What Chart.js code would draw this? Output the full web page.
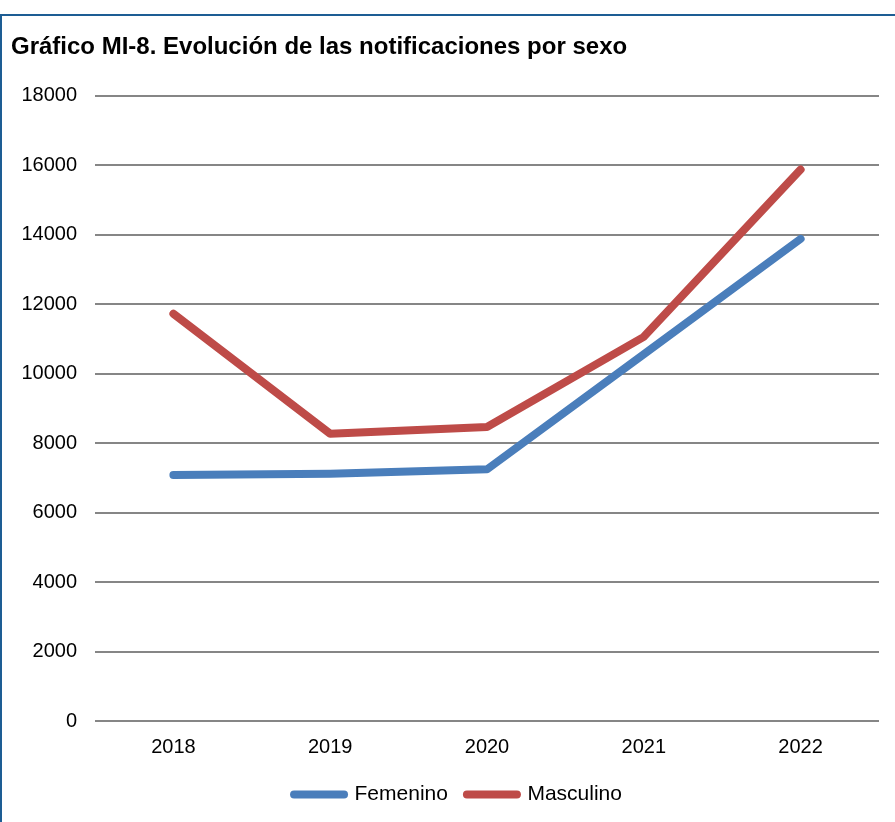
<!DOCTYPE html>
<html lang="es">
<head>
<meta charset="utf-8">
<title>Gráfico MI-8</title>
<script src="https://cdn.jsdelivr.net/npm/chart.js@4.4.1/dist/chart.umd.min.js"></script>
<style>
    html, body { margin: 0; padding: 0; background: #ffffff; overflow: hidden; }
    #frame {
        position: absolute; left: 0; top: 14px; width: 920px; height: 840px;
        border-top: 2px solid #1d5d94; border-left: 2px solid #1d5d94;
    }
    #wrap { position: absolute; left: 0; top: 0; width: 895px; height: 822px; }
</style>
</head>
<body>
<div id="frame"></div>
<div id="wrap"><canvas id="notifChart"></canvas></div>
<script>
// Años y notificaciones por sexo
const years = ['2018', '2019', '2020', '2021', '2022'];
const femenino = [7080, 7115, 7245, 10560, 13880];
const masculino = [11725, 8270, 8465, 11060, 15875];
const yTicks = [0, 2000, 4000, 6000, 8000, 10000, 12000, 14000, 16000, 18000];

const FONT = 'Liberation Sans, Arial, Helvetica, sans-serif';

function lineSeries(label, data, color) {
    return {
        label: label,
        data: data,
        borderColor: color,
        backgroundColor: color,
        borderWidth: 8,
        borderCapStyle: 'round',
        borderJoinStyle: 'round',
        pointRadius: 0,
        pointHoverRadius: 0,
        tension: 0,
        fill: false
    };
}

// nudge the legend a little to the right of the canvas centre
const legendNudge = {
    id: 'legendNudge',
    afterLayout: function(chart) {
        chart.legend.left += 13;
        chart.legend.right += 13;
    }
};

new Chart(document.getElementById('notifChart'), {
    type: 'line',
    data: {
        labels: years,
        datasets: [
            lineSeries('Femenino', femenino, '#4a7ebb'),
            lineSeries('Masculino', masculino, '#be4b48')
        ]
    },
    plugins: [legendNudge],
    options: {
        responsive: true,
        maintainAspectRatio: false,
        animation: false,
        layout: { padding: { left: 11, right: 16, top: 0, bottom: 7 } },
        plugins: {
            title: {
                display: true,
                text: 'Gráfico MI-8. Evolución de las notificaciones por sexo',
                align: 'start',
                color: '#000000',
                font: { family: FONT, size: 24, weight: 'bold' },
                padding: { top: 33, bottom: 34 }
            },
            legend: {
                position: 'bottom',
                labels: {
                    usePointStyle: true,
                    pointStyle: 'line',
                    pointStyleWidth: 50,
                    color: '#000000',
                    font: { family: FONT, size: 21 },
                    padding: 19,
                    // rounded legend strokes, like the series lines
                    generateLabels: function(chart) {
                        const items = Chart.defaults.plugins.legend.labels.generateLabels(chart);
                        items.forEach(function(item) {
                            item.lineCap = 'round';
                            item.lineWidth = 8;
                        });
                        return items;
                    }
                }
            },
            tooltip: { enabled: false }
        },
        scales: {
            x: {
                offset: true,
                grid: { display: false },
                border: { display: false },
                ticks: {
                    color: '#000000',
                    font: { family: FONT, size: 20 },
                    padding: 6,
                    maxRotation: 0
                }
            },
            y: {
                min: 0,
                max: 18000,
                afterFit: function(axis) { axis.width = 84; },
                afterBuildTicks: function(axis) {
                    axis.ticks = yTicks.map(function(v) { return { value: v }; });
                },
                grid: { color: '#868686', lineWidth: 2, drawTicks: false },
                border: { display: false },
                ticks: {
                    color: '#000000',
                    font: { family: FONT, size: 20 },
                    padding: 18,
                    callback: function(value) { return String(value); }
                }
            }
        }
    }
});
</script>
</body>
</html>
